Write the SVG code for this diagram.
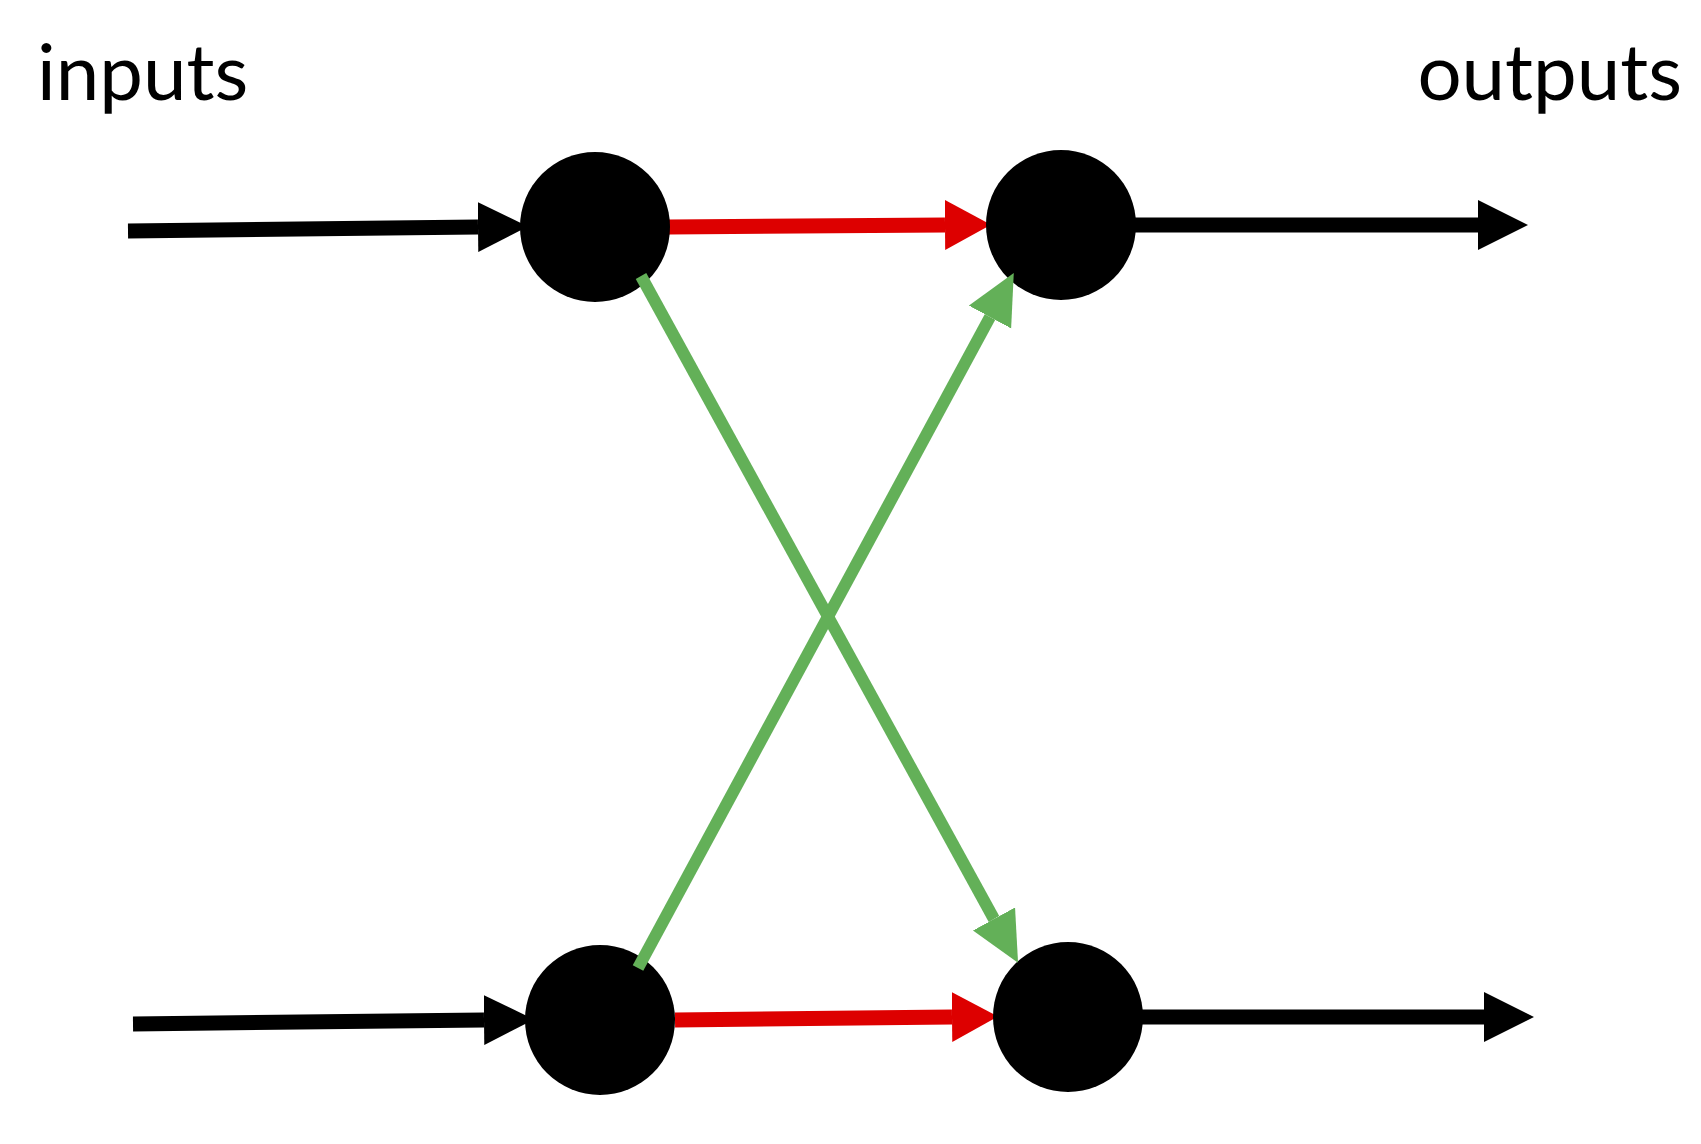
<svg xmlns="http://www.w3.org/2000/svg" width="1701" height="1144" viewBox="0 0 1701 1144">
<style>
.lbl{font-family:Lato,"Open Sans",sans-serif;font-size:78px;fill:#000}
.blk{stroke:#000;stroke-width:15;fill:none}
.red{stroke:#dd0000;stroke-width:15;fill:none}
.grn{stroke:#63b058;stroke-width:12;fill:none}
.node{fill:#000}
</style>
<defs>
<marker id="hb" markerUnits="userSpaceOnUse" markerWidth="52" markerHeight="52" refX="0" refY="25" orient="auto"><path d="M0,0 L50,25 L0,50 z" fill="#000"/></marker>
<marker id="hr" markerUnits="userSpaceOnUse" markerWidth="52" markerHeight="52" refX="0" refY="25" orient="auto"><path d="M0,0 L46,25 L0,50 z" fill="#dd0000"/></marker>
<marker id="hg" markerUnits="userSpaceOnUse" markerWidth="52" markerHeight="52" refX="0" refY="24" orient="auto"><path d="M0,0 L50,24 L0,48 z" fill="#63b058"/></marker>
</defs>
<text class="lbl" x="37" y="100">inputs</text>
<text class="lbl" x="1682" y="100" text-anchor="end">outputs</text>
<g id="connectors">
<line class="blk" x1="128" y1="231" x2="478" y2="227" marker-end="url(#hb)"/>
<line class="red" x1="669" y1="227" x2="945" y2="225" marker-end="url(#hr)"/>
<line class="blk" x1="1135" y1="225" x2="1478" y2="225" marker-end="url(#hb)"/>
<line class="blk" x1="133" y1="1024" x2="484" y2="1020" marker-end="url(#hb)"/>
<line class="red" x1="675" y1="1020" x2="952" y2="1017" marker-end="url(#hr)"/>
<line class="blk" x1="1141" y1="1017" x2="1484" y2="1017" marker-end="url(#hb)"/>
</g>
<g id="n1"><circle class="node" cx="595" cy="227" r="75"/></g>
<g id="n2"><circle class="node" cx="1061" cy="225" r="75"/></g>
<g id="n3"><circle class="node" cx="600" cy="1020" r="75"/></g>
<g id="n4"><circle class="node" cx="1068" cy="1017" r="75"/></g>
<g id="cross-connectors">
<line class="grn" x1="641" y1="276" x2="994" y2="919" marker-end="url(#hg)"/>
<line class="grn" x1="638" y1="968" x2="990" y2="317" marker-end="url(#hg)"/>
</g>
</svg>
